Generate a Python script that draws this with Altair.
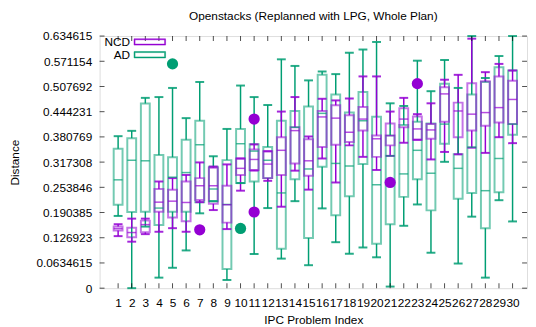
import altair as alt
import pandas as pd

problems = list(range(1, 31))

# NCD (lo, q1, median, q3, hi)
ncd_lo  = [0.131, 0.117, 0.136, 0.142, 0.151, 0.142, 0.2165, 0.1966, 0.1487, 0.2454,
           0.296, 0.2702, 0.205, 0.2958, 0.248, 0.3264, 0.266, 0.3594, 0.3305, 0.2975,
           0.333, 0.366, 0.3735, 0.324, 0.3429, 0.337, 0.3536, 0.3405, 0.380, 0.365]
ncd_q1  = [0.145, 0.128, 0.1405, 0.1925, 0.178, 0.1686, 0.222, 0.2124, 0.165, 0.285,
           0.2975, 0.277, 0.285, 0.314, 0.283, 0.3553, 0.361, 0.3677, 0.3966, 0.3305,
           0.3594, 0.405, 0.3735, 0.376, 0.419, 0.380, 0.3966, 0.409, 0.4172, 0.413]
ncd_med = [0.150, 0.140, 0.160, 0.2165, 0.219, 0.2157, 0.2578, 0.2578, 0.210, 0.3016,
           0.324, 0.3123, 0.347, 0.3966, 0.3206, 0.431, 0.428, 0.3925, 0.4256, 0.376,
           0.384, 0.4256, 0.4008, 0.3983, 0.489, 0.446, 0.438, 0.442, 0.4545, 0.475]
ncd_q3  = [0.155, 0.152, 0.170, 0.2496, 0.248, 0.2685, 0.277, 0.3033, 0.2578, 0.3264,
           0.3488, 0.3446, 0.380, 0.405, 0.375, 0.446, 0.4602, 0.4355, 0.456, 0.3842,
           0.4147, 0.4529, 0.432, 0.413, 0.5057, 0.467, 0.516, 0.5206, 0.533, 0.522]
ncd_hi  = [0.161, 0.175, 0.175, 0.2685, 0.277, 0.285, 0.3165, 0.306, 0.3115, 0.3264,
           0.362, 0.3446, 0.4445, 0.481, 0.3818, 0.4767, 0.4726, 0.4776, 0.533, 0.533,
           0.4445, 0.479, 0.438, 0.4653, 0.5247, 0.537, 0.628, 0.5437, 0.5645, 0.548]

# AD (lo, q1, median, q3, hi)
ad_lo  = [0.1818, 0.0, 0.155, 0.0265, 0.0513, 0.095, 0.1884, 0.219, 0.0206, 0.2645,
          0.086, 0.2016, 0.0744, 0.219, 0.0578, 0.2008, 0.1157, 0.0868, 0.1024, 0.0777,
          0.004, 0.157, 0.2107, 0.0892, 0.318, 0.062, 0.180, 0.0265, 0.2214, 0.168]
ad_q1  = [0.210, 0.1917, 0.1925, 0.159, 0.1925, 0.1925, 0.2165, 0.219, 0.048, 0.2645,
          0.2685, 0.277, 0.0992, 0.2744, 0.1264, 0.3057, 0.1834, 0.2313, 0.3123, 0.1116,
          0.161, 0.2298, 0.2744, 0.1958, 0.3636, 0.2248, 0.2397, 0.151, 0.2413, 0.386]
ad_med = [0.2727, 0.322, 0.3206, 0.2016, 0.2793, 0.291, 0.361, 0.2496, 0.2107, 0.3636,
          0.345, 0.322, 0.2397, 0.405, 0.300, 0.440, 0.314, 0.3074, 0.4214, 0.2603,
          0.333, 0.2876, 0.347, 0.2893, 0.413, 0.3016, 0.355, 0.2454, 0.3264, 0.413]
ad_q3  = [0.351, 0.3776, 0.465, 0.335, 0.3297, 0.3735, 0.4214, 0.3057, 0.3223, 0.4008,
          0.362, 0.3553, 0.4214, 0.4462, 0.457, 0.537, 0.4875, 0.442, 0.494, 0.4313,
          0.3842, 0.4107, 0.419, 0.4147, 0.5148, 0.337, 0.4875, 0.519, 0.556, 0.548]
ad_hi  = [0.3826, 0.396, 0.479, 0.481, 0.504, 0.428, 0.519, 0.332, 0.4008, 0.510,
          0.481, 0.461, 0.576, 0.5594, 0.523, 0.5454, 0.5388, 0.5924, 0.6007, 0.6197,
          0.4653, 0.4586, 0.5726, 0.4958, 0.5743, 0.504, 0.6346, 0.529, 0.5843, 0.6346]

# outliers
out_series = ["AD", "AD", "NCD", "NCD", "NCD", "NCD", "NCD"]
out_problem = [5, 10, 7, 11, 11, 21, 23]
out_value = [0.5645, 0.1504, 0.147, 0.4256, 0.1917, 0.266, 0.5148]

y_ticks = [0, 0.0634615, 0.126923, 0.190385, 0.253846, 0.317308, 0.380769,
           0.444231, 0.507692, 0.571154, 0.634615]

series_names = ["NCD", "AD"]
series_colors = ["#9400d3", "#009e73"]

rows = []
for i, p in enumerate(problems):
    rows.append(dict(problem=p, series="AD", lo=ad_lo[i], q1=ad_q1[i], med=ad_med[i], q3=ad_q3[i], hi=ad_hi[i]))
for i, p in enumerate(problems):
    rows.append(dict(problem=p, series="NCD", lo=ncd_lo[i], q1=ncd_q1[i], med=ncd_med[i], q3=ncd_q3[i], hi=ncd_hi[i]))
df = pd.DataFrame(rows)
df_out = pd.DataFrame(dict(problem=out_problem, series=out_series, value=out_value))
df_xt = pd.DataFrame(dict(problem=problems))
df_yt = pd.DataFrame(dict(value=y_ticks))

W, H = 434, 256
FONT = "Liberation Sans"

xscale = alt.Scale(domain=[0, 30.7], nice=False, zero=False)
yscale = alt.Scale(domain=[0, 0.634615], nice=False, zero=False)
color_scale = alt.Scale(domain=series_names, range=series_colors)

x_axis = alt.Axis(values=problems, title="IPC Problem Index", labelOverlap=False,
                  tickSize=0, domain=False, grid=False, labelPadding=10,
                  labelFontSize=12, titleFontSize=12, titleFontWeight="normal",
                  titlePadding=6, labelFont=FONT, titleFont=FONT, labelColor="black",
                  titleColor="black", labelFlush=False)
y_axis = alt.Axis(values=y_ticks, title="Distance", format=".6~g", tickSize=0,
                  domain=False, grid=False, labelPadding=8, labelFontSize=12,
                  labelOverlap=False, labelFlush=False,
                  titleFontSize=12, titleFontWeight="normal", titlePadding=15,
                  labelFont=FONT, titleFont=FONT, labelColor="black", titleColor="black")

X = alt.X("problem:Q", scale=xscale, axis=x_axis)
Y = lambda f: alt.Y(f, scale=yscale, axis=y_axis)

legend = alt.Legend(orient="none", legendX=19, legendY=0, title=None,
                    symbolType="M2.5,-0.8H10.5V0.8H2.5Z M2.75,-0.55V0.55H10.25V-0.55Z",
                    symbolSize=64, symbolStrokeWidth=0.5, symbolFillColor="transparent",
                    labelAlign="right", labelOffset=0,
                    labelFontSize=12, labelFont=FONT, labelColor="black",
                    rowPadding=1, padding=0, symbolOpacity=1)

S = alt.Stroke("series:N", scale=color_scale, legend=legend)
Cn = alt.Color("series:N", scale=color_scale, legend=None)

base = alt.Chart(df)

boxes = base.mark_bar(filled=False, size=9, strokeWidth=2, strokeOpacity=0.55).encode(
    x=X, y=Y("q1:Q"), y2="q3:Q", stroke=S)
wlow = base.mark_rule(strokeWidth=1.5).encode(
    x=X, y=Y("lo:Q"), y2="q1:Q", color=Cn)
whigh = base.mark_rule(strokeWidth=1.5).encode(
    x=X, y=Y("q3:Q"), y2="hi:Q", color=Cn)
cap_lo = base.mark_tick(orient="horizontal", size=9, thickness=2, opacity=0.85).encode(
    x=X, y=Y("lo:Q"), color=Cn)
cap_hi = base.mark_tick(orient="horizontal", size=9, thickness=2, opacity=0.85).encode(
    x=X, y=Y("hi:Q"), color=Cn)
med = base.mark_tick(orient="horizontal", size=9, thickness=1.5).encode(
    x=X, y=Y("med:Q"), color=Cn)
outl = alt.Chart(df_out).mark_circle(size=130, opacity=1).encode(
    x=X, y=Y("value:Q"), color=Cn)

xt_bot = alt.Chart(df_xt).mark_tick(orient="vertical", size=5, thickness=1, color="black").encode(
    x=X, y=alt.value(H - 2.5))
xt_top = alt.Chart(df_xt).mark_tick(orient="vertical", size=5, thickness=1, color="black").encode(
    x=X, y=alt.value(2.5))
yt_l = alt.Chart(df_yt).mark_tick(orient="horizontal", size=5, thickness=1, color="black").encode(
    y=Y("value:Q"), x=alt.value(2.5))
yt_r = alt.Chart(df_yt).mark_tick(orient="horizontal", size=5, thickness=1, color="black").encode(
    y=Y("value:Q"), x=alt.value(W - 2.5))

chart = alt.layer(boxes, wlow, whigh, cap_lo, cap_hi, med, outl,
                  xt_bot, xt_top, yt_l, yt_r).properties(
    width=W, height=H,
    title=alt.Title("Openstacks (Replanned with LPG, Whole Plan)", fontSize=12,
                    fontWeight="normal", font=FONT, color="black", offset=7),
    autosize=alt.AutoSizeParams(type="none"),
    padding={"left": 93, "top": 26, "right": 1, "bottom": 40},
).configure_view(stroke="black", strokeWidth=1).configure(background="white")

chart.save("out.html", embed_options={"renderer": "svg", "actions": False})
